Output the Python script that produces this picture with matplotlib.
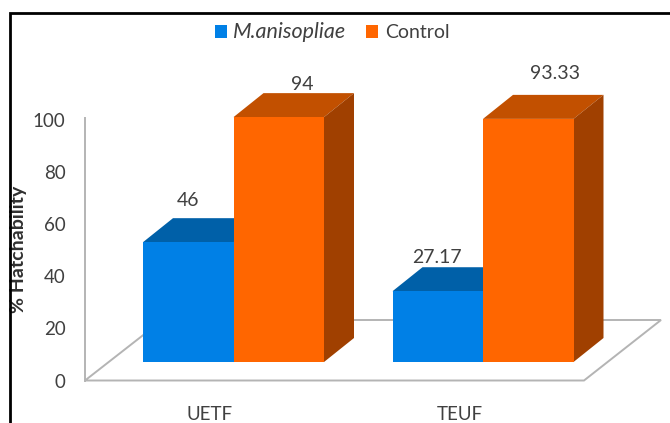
import numpy as np
import matplotlib
matplotlib.use("Agg")
import matplotlib.pyplot as plt
from matplotlib.patches import Polygon

plt.rcParams['font.family'] = ['Lato', 'DejaVu Sans']

categories = ['UETF', 'TEUF']
series_names = ['M.anisopliae', 'Control']
metarhizium = [46, 27.17]
control = [94, 93.33]
value_labels_a = ['46', '27.17']
value_labels_b = ['94', '93.33']
y_ticks = [0, 20, 40, 60, 80, 100]

BLUE = ('#0080e6', '#0060a8', '#004f8a')
ORANGE = ('#ff6600', '#c25000', '#a04000')
TEXT = '#404040'
GRID = '#b4b4b4'

W, H = 670, 423
# one value unit is 2.605 px, one category step is 249.5 px
ppu = 2.605
step = 249.5
y0 = 380.5
x0 = 233.5

fig = plt.figure(figsize=(W / 100, H / 100), dpi=100, facecolor='white')
ax = fig.add_axes([0, 0, 1, 1])
ax.set_xlim(-x0 / step, (W - x0) / step)
ax.set_ylim((y0 - H) / ppu, y0 / ppu)
ax.axis('off')

bar_w = 90.5 / step
dx = 30 / step
dy = 24 / ppu
floor = 7.1
x = np.arange(len(categories))

# floor of the box, then the value wall edge
back = (y0 - 320) / ppu
floor_pts = [(-148.5 / step, 0), (350.5 / step, 0), (427.5 / step, back), (-71 / step, back)]
ax.add_patch(Polygon(floor_pts, closed=True, fc='white', ec=GRID, lw=1.4, zorder=1))
ax.plot([-148.5 / step] * 2, [0, 100.9], color=GRID, lw=1.4, zorder=1)


def box(xleft, value, cols, z):
    top = floor + value
    ax.bar(xleft, value, bar_w, bottom=floor, align='edge', color=cols[0], lw=0, zorder=z + 0.2)
    ax.add_patch(Polygon([(xleft, top), (xleft + bar_w, top), (xleft + bar_w + dx, top + dy), (xleft + dx, top + dy)],
                         closed=True, fc=cols[1], lw=0, zorder=z))
    xr = xleft + bar_w
    ax.add_patch(Polygon([(xr, floor), (xr, top), (xr + dx, top + dy), (xr + dx, floor + dy)],
                         closed=True, fc=cols[2], lw=0, zorder=z))


for i in x:
    box(i - bar_w, metarhizium[i], BLUE, 2 + i)
    box(i, control[i], ORANGE, 2.5 + i)

# data labels sit above the boxes, offsets are in px
offs_a = [(0, 42), (-0.5, 34)]
offs_b = [(24, 33), (27, 45)]
for i in x:
    ax.annotate(value_labels_a[i], (i - bar_w / 2, floor + metarhizium[i]),
                xytext=(offs_a[i][0] * 0.72, offs_a[i][1] * 0.72), textcoords='offset points',
                ha='center', va='center', fontsize=14, color=TEXT, zorder=10)
    ax.annotate(value_labels_b[i], (i + bar_w / 2, floor + control[i]),
                xytext=(offs_b[i][0] * 0.72, offs_b[i][1] * 0.72), textcoords='offset points',
                ha='center', va='center', fontsize=14, color=TEXT, zorder=10)

for t in y_ticks:
    ax.text(-168 / step, t - 0.6, str(t), ha='right', va='center', fontsize=13.5, color=TEXT)

for i in x:
    ax.text(i - 23.5 / step, -13.2, categories[i], ha='center', va='center', fontsize=13.5, color=TEXT)

ax.text(-214.5 / step, 50.5, '% Hatchability', rotation=90, ha='center', va='center',
        fontsize=14, fontweight='bold', color='#303030')

handles = [plt.Rectangle((0, 0), 1, 1, fc=BLUE[0]), plt.Rectangle((0, 0), 1, 1, fc=ORANGE[0])]
leg = ax.legend(handles, series_names, ncol=2, loc='center', bbox_to_anchor=(332 / W, 1 - 32.5 / H),
                frameon=False, fontsize=14, handlelength=0.62, handleheight=0.62,
                handletextpad=0.35, columnspacing=1.0, labelcolor=TEXT)
leg.get_texts()[0].set_fontstyle('italic')
leg.get_texts()[0].set_fontsize(15.5)

# black frame, open on the right and at the bottom
ax.plot([9.5 / W, 9.5 / W, 1], [0, 1 - 13 / H, 1 - 13 / H], color='black', lw=2,
        transform=ax.transAxes, solid_joinstyle='miter', zorder=12)

fig.savefig('out.png', dpi=100)
